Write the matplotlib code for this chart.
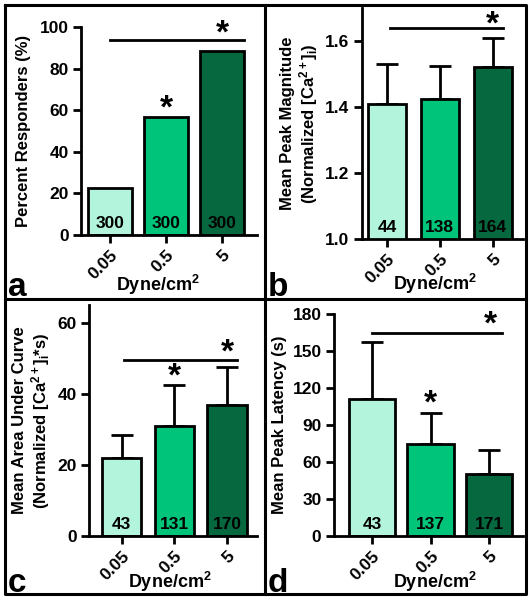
import matplotlib
matplotlib.use("Agg")
import matplotlib.pyplot as plt
from matplotlib.lines import Line2D

plt.rcParams['font.family'] = ['Liberation Sans', 'DejaVu Sans']
plt.rcParams['font.weight'] = 'bold'
plt.rcParams['mathtext.fontset'] = 'custom'
plt.rcParams['mathtext.rm'] = 'Liberation Sans:bold'
plt.rcParams['mathtext.it'] = 'Liberation Sans:bold'
plt.rcParams['mathtext.bf'] = 'Liberation Sans:bold'

categories = ["0.05", "0.5", "5"]
colors = ["#b3f5dc", "#00c47a", "#06683f"]

# Panel a
resp_pct = [22.5, 56.5, 88.5]
resp_n = [300, 300, 300]
# Panel b
peak_mag = [1.41, 1.425, 1.52]
peak_mag_err = [0.12, 0.10, 0.09]
peak_mag_n = [44, 138, 164]
# Panel c
auc = [22.0, 31.0, 37.0]
auc_err = [6.5, 11.5, 10.5]
auc_n = [43, 131, 170]
# Panel d
latency = [111, 75, 50.5]
latency_err = [46, 25, 19.5]
latency_n = [43, 137, 171]

W, H = 530, 600
fig = plt.figure(figsize=(W / 100, H / 100), dpi=100)

def pax(l, r, b, t):
    return fig.add_axes([l / W, 1 - b / H, (r - l) / W, (b - t) / H])

panels = [
    dict(box=(81, 257, 235, 27), vals=resp_pct, err=None, n=resp_n,
         ylim=(0, 100), yticks=[0, 20, 40, 60, 80, 100], yfmt="{:.0f}",
         xlim=(-0.52, 2.62), width=0.79, lpad=6,
         ylabel="Percent Responders (%)",
         line=(0, 2.38, 93.7), stars=[(1, 60.5), (2.0, 96.5)], letter="a",
         letpos=(8, 296), xlab=(158, 291)),
    dict(box=(362, 523, 239, 8), vals=peak_mag, err=peak_mag_err, n=peak_mag_n,
         ylim=(1.0, 1.7), yticks=[1.0, 1.2, 1.4, 1.6], yfmt="{:.1f}",
         xlim=(-0.47, 2.57), width=0.72, lpad=4,
         ylabel="Mean Peak Magnitude\n(Normalized [Ca$^{2+}$]$_i$)",
         line=(0.05, 2.2, 1.64), stars=[(2, 1.648)], letter="b",
         letpos=(268, 296), xlab=(435, 290)),
    dict(box=(89, 257, 536, 305), vals=auc, err=auc_err, n=auc_n,
         ylim=(0, 65), yticks=[0, 20, 40, 60], yfmt="{:.0f}",
         xlim=(-0.62, 2.57), width=0.75, lpad=4,
         ylabel="Mean Area Under Curve\n(Normalized [Ca$^{2+}$]$_i$*s)",
         line=(0.05, 2.19, 49.5), stars=[(1, 44.7), (2, 51.5)], letter="c",
         letpos=(8, 592), xlab=(170, 588)),
    dict(box=(334, 523, 536, 314), vals=latency, err=latency_err, n=latency_n,
         ylim=(0, 180), yticks=[0, 30, 60, 90, 120, 150, 180], yfmt="{:.0f}",
         xlim=(-0.65, 2.58), width=0.79, lpad=4,
         ylabel="Mean Peak Latency (s)",
         line=(0, 2.22, 165), stars=[(1, 107), (2.03, 171)], letter="d",
         letpos=(268, 592), xlab=(435, 588)),
]

x = list(range(len(categories)))
for p in panels:
    ax = pax(*p["box"])
    yerr = None
    if p["err"] is not None:
        yerr = [[0] * len(p["err"]), p["err"]]
    ax.bar(x, p["vals"], width=p["width"], color=colors, edgecolor="black",
           linewidth=2.0, zorder=2,
           yerr=yerr, capsize=8, error_kw=dict(elinewidth=2.0, capthick=2.0, ecolor="black", zorder=1))
    ax.set_ylim(*p["ylim"])
    ax.set_xlim(*p["xlim"])
    ax.set_yticks(p["yticks"])
    ax.set_yticklabels([p["yfmt"].format(v) for v in p["yticks"]], fontsize=12.5, fontweight="bold")
    ax.set_xticks(x)
    ax.set_xticklabels(categories, rotation=45, ha="right", rotation_mode="anchor",
                       fontsize=12.5, fontweight="bold")
    for s in ["top", "right"]:
        ax.spines[s].set_visible(False)
    for s in ["left", "bottom"]:
        ax.spines[s].set_linewidth(2.0)
    ax.tick_params(axis="both", width=2.0, length=6, direction="out", pad=3)
    ax.set_ylabel(p["ylabel"], fontsize=12, fontweight="bold", labelpad=p["lpad"], linespacing=1.1)
    fig.text(p["xlab"][0] / W, 1 - p["xlab"][1] / H, "Dyne/cm$^2$", fontsize=13,
             fontweight="bold", ha="center", va="baseline")
    for xi, n in zip(x, p["n"]):
        ax.annotate(str(n), (xi, p["ylim"][0]), xytext=(0, 3), textcoords="offset points",
                    ha="center", va="bottom", fontsize=12.5, fontweight="bold", zorder=3)
    x0, x1, yl = p["line"]
    ax.plot([x0, x1], [yl, yl], color="black", lw=2.0, clip_on=False)
    for sx, sy in p["stars"]:
        ax.text(sx, sy, "*", ha="center", va="center", fontsize=24, fontweight="bold", clip_on=False)
    fig.text(p["letpos"][0] / W, 1 - p["letpos"][1] / H, p["letter"], fontsize=24,
             fontweight="bold", ha="left", va="baseline")

# panel frames
lw = 2.2
def fl(xs, ys):
    fig.add_artist(Line2D([v / W for v in xs], [1 - v / H for v in ys], color="black",
                          lw=lw, transform=fig.transFigure))
fl([5, 526, 526, 5, 5], [5, 5, 594, 594, 5])
fl([265, 265], [5, 594])
fl([5, 526], [299, 299])

fig.savefig("out.png", dpi=100)
